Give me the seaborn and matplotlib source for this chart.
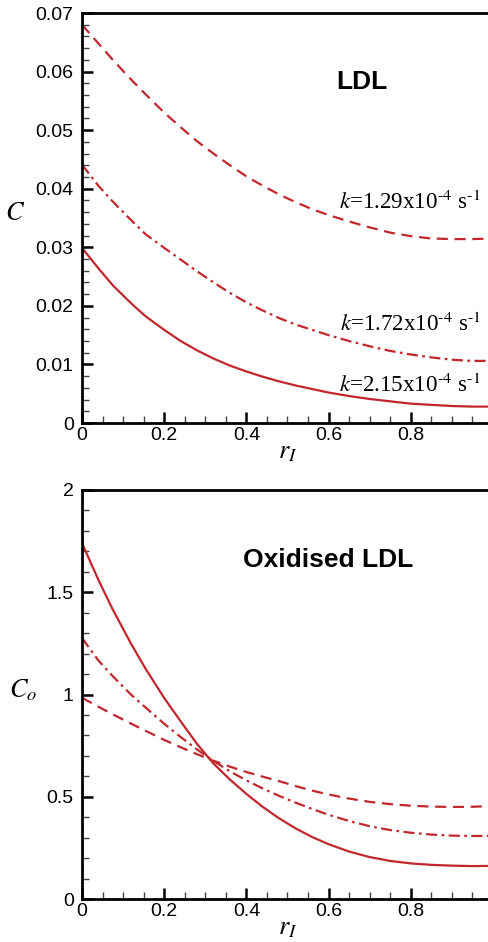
import numpy as np
import pandas as pd
import matplotlib
matplotlib.use("Agg")
import matplotlib.pyplot as plt
from matplotlib.ticker import MultipleLocator
import seaborn as sns

# ---- data ----
r_I = [0.0, 0.04, 0.075, 0.12, 0.155, 0.2, 0.24, 0.28, 0.32, 0.36, 0.4, 0.44,
       0.48, 0.52, 0.56, 0.6, 0.65, 0.7, 0.75, 0.8, 0.85, 0.9, 0.95, 1.0]

# LDL concentration C
ldl_k129 = [0.0680, 0.0648, 0.0620, 0.0586, 0.0561, 0.0530, 0.0505, 0.0481, 0.0460, 0.0440, 0.0421, 0.0405,
            0.0390, 0.0377, 0.0365, 0.0355, 0.0344, 0.0334, 0.0325, 0.0319, 0.0315, 0.0314, 0.0314, 0.0315]
ldl_k172 = [0.0441, 0.0405, 0.0378, 0.0346, 0.0322, 0.0299, 0.0279, 0.0259, 0.0240, 0.0222, 0.0206, 0.0192,
            0.0179, 0.0168, 0.0159, 0.0150, 0.0140, 0.0131, 0.0123, 0.0117, 0.0112, 0.0108, 0.0106, 0.0106]
ldl_k215 = [0.0299, 0.0264, 0.0235, 0.0204, 0.0182, 0.0159, 0.0140, 0.0124, 0.0110, 0.0098, 0.0088, 0.0079,
            0.0071, 0.0064, 0.0058, 0.0052, 0.0046, 0.0041, 0.0037, 0.0033, 0.0031, 0.0029, 0.0028, 0.0028]

# Oxidised LDL concentration Co
ox_k129 = [0.984, 0.940, 0.903, 0.857, 0.822, 0.778, 0.742, 0.708, 0.676, 0.647, 0.621, 0.598,
           0.576, 0.552, 0.530, 0.511, 0.491, 0.475, 0.464, 0.456, 0.452, 0.450, 0.451, 0.455]
ox_k172 = [1.276, 1.166, 1.089, 0.998, 0.936, 0.857, 0.792, 0.731, 0.675, 0.624, 0.580, 0.540,
           0.504, 0.471, 0.440, 0.412, 0.381, 0.356, 0.337, 0.324, 0.315, 0.310, 0.308, 0.309]
ox_k215 = [1.740, 1.560, 1.415, 1.246, 1.125, 0.983, 0.869, 0.758, 0.662, 0.584, 0.514, 0.450,
           0.394, 0.345, 0.303, 0.268, 0.232, 0.205, 0.186, 0.174, 0.167, 0.163, 0.161, 0.162]

series_labels = ["k=1.29", "k=1.72", "k=2.15"]
annot_labels = [r"$k$=1.29x10$^{\text{-}4}$ s$^{\text{-}1}$",
                r"$k$=1.72x10$^{\text{-}4}$ s$^{\text{-}1}$",
                r"$k$=2.15x10$^{\text{-}4}$ s$^{\text{-}1}$"]
annot_y = [0.0365, 0.0157, 0.0053]

x_ticks = [0, 0.2, 0.4, 0.6, 0.8]
x_ticklabels = ["0", "0.2", "0.4", "0.6", "0.8"]
top_yticks = [0, 0.01, 0.02, 0.03, 0.04, 0.05, 0.06, 0.07]
top_yticklabels = ["0", "0.01", "0.02", "0.03", "0.04", "0.05", "0.06", "0.07"]
bot_yticks = [0, 0.5, 1.0, 1.5, 2.0]
bot_yticklabels = ["0", "0.5", "1", "1.5", "2"]

# ---- styling ----
sns.set_style("ticks")
plt.rcParams["font.family"] = ["Liberation Sans", "DejaVu Sans"]
plt.rcParams["mathtext.fontset"] = "stix"
for key in ["text.color", "axes.labelcolor", "xtick.color", "ytick.color",
            "xtick.labelcolor", "ytick.labelcolor"]:
    plt.rcParams[key] = "black"

RED = "#C1272D"
styles = {"k=1.29": (5, 3), "k=1.72": (5, 2, 1.2, 2), "k=2.15": ""}

def make_df(vals):
    rows = []
    for lab, v in zip(series_labels, vals):
        for x, y in zip(r_I, v):
            rows.append({"r": x, "c": y, "series": lab})
    return pd.DataFrame(rows)

fig = plt.figure(figsize=(4.89, 9.42), dpi=100)
ax1 = fig.add_axes([82 / 489, 1 - 423 / 942, 411 / 489, 410 / 942])
ax2 = fig.add_axes([82 / 489, 1 - 899 / 942, 411 / 489, 409 / 942])

for ax, vals in [(ax1, [ldl_k129, ldl_k172, ldl_k215]), (ax2, [ox_k129, ox_k172, ox_k215])]:
    df = make_df(vals)
    sns.lineplot(data=df, x="r", y="c", hue="series", style="series",
                 palette=[RED] * 3, dashes=styles, linewidth=1.6,
                 legend=False, ax=ax, sort=False)
    ax.set_xlim(0, 1)
    ax.set_xticks(x_ticks)
    ax.set_xticklabels(x_ticklabels)
    ax.xaxis.set_minor_locator(MultipleLocator(0.05))
    ax.tick_params(which="major", direction="in", length=8, width=1.8,
                   labelsize=14, top=False, right=False, color="black")
    ax.tick_params(which="minor", direction="in", length=5, width=1.0,
                   top=False, right=False, color="#444444")
    ax.tick_params(axis="y", which="major", pad=6)
    ax.tick_params(axis="x", which="major", pad=3)
    for s in ["left", "bottom", "top", "right"]:
        ax.spines[s].set_linewidth(2.0)
        ax.spines[s].set_color("black")
    ax.set_xlabel(r"$r_I$", fontsize=19, labelpad=-3)
    ax.set_ylabel("")

ax1.set_ylim(0, 0.07)
ax1.set_yticks(top_yticks)
ax1.set_yticklabels(top_yticklabels)
ax1.yaxis.set_minor_locator(MultipleLocator(0.002))
ax1.text(-0.163, 0.512, r"$C$", transform=ax1.transAxes, fontsize=19, ha="center", va="center")
ax1.text(0.68, 0.832, "LDL", transform=ax1.transAxes, fontsize=19, fontweight="bold",
         ha="center", va="center")
for lab, yv in zip(annot_labels, annot_y):
    ax1.text(0.97, yv, lab, fontsize=16.6, ha="right", va="baseline",
             family=["Liberation Serif", "DejaVu Serif"])

ax2.set_ylim(0, 2)
ax2.set_yticks(bot_yticks)
ax2.set_yticklabels(bot_yticklabels)
ax2.yaxis.set_minor_locator(MultipleLocator(0.1))
ax2.text(-0.143, 0.51, r"$C_o$", transform=ax2.transAxes, fontsize=19, ha="center", va="center")
ax2.text(0.60, 0.83, "Oxidised LDL", transform=ax2.transAxes, fontsize=19, fontweight="bold",
         ha="center", va="center")

fig.savefig("out.png", dpi=100)
